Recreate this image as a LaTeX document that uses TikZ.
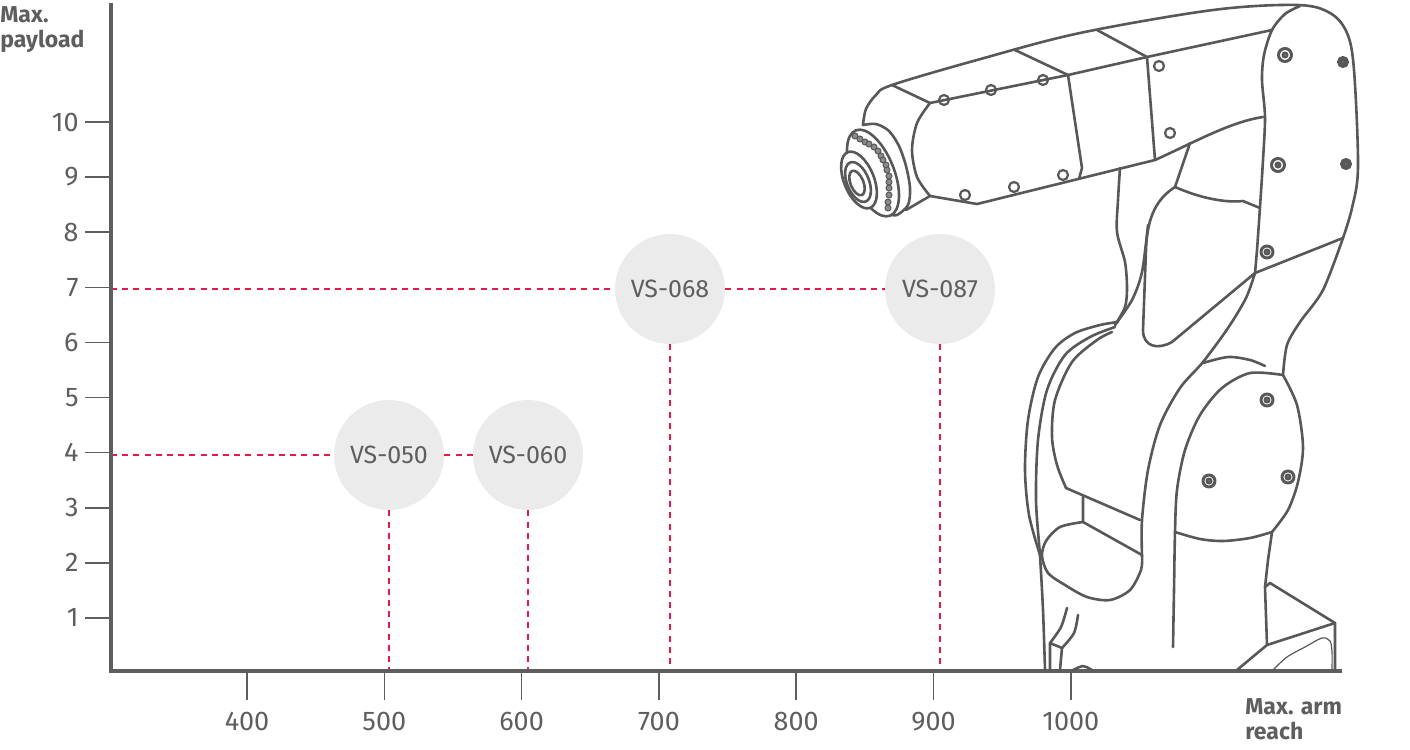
\documentclass[tikz,border=0pt]{standalone}
\usepackage{fontspec}
\setmainfont{Fira Sans}
\usetikzlibrary{positioning}
\definecolor{inkgray}{HTML}{5E5E5E}
\definecolor{guidered}{HTML}{E5194A}
\definecolor{bubblegray}{HTML}{EBEBEB}
\definecolor{robotgray}{HTML}{585858}

\begin{document}
\begin{tikzpicture}[x=0.5pt, y=-0.5pt,
    axis/.style={draw=inkgray, line width=2.4pt},
    tick/.style={draw=inkgray, line width=0.8pt},
    ticklabel/.style={text=inkgray, font=\fontsize{13.5}{13.5}\selectfont, inner sep=1pt},
    axistitle/.style={text=inkgray, font=\bfseries\fontsize{11.5}{12.5}\selectfont, align=left, inner sep=0pt},
    model/.style={circle, fill=bubblegray, minimum size=55pt, inner sep=0pt, text=inkgray, font=\fontsize{12.5}{12.5}\selectfont},
    guide/.style={draw=guidered, line width=0.9pt, dash pattern=on 3pt off 2.6pt},
    robot/.style={draw=robotgray, line width=1.3pt, line join=round, line cap=round},
  ]
  \useasboundingbox (0,0) rectangle (1410,750);

  % models
  \node[model] (vs050) at (389,455) {VS-050};
  \node[model] (vs060) at (528,455) {VS-060};
  \node[model] (vs068) at (670,289) {VS-068};
  \node[model] (vs087) at (940,289) {VS-087};

  \coordinate (origin) at (111,671);
  \coordinate (ytop) at (111,3);
  \coordinate (xend) at (1342,671);

  % guides
  \draw[guide] (origin |- vs050) -- (vs050);
  \draw[guide] (vs050) -- (vs060);
  \draw[guide] (origin |- vs068) -- (vs068);
  \draw[guide] (vs068) -- (vs087);
  \foreach \m in {vs050,vs060,vs068,vs087}
    \draw[guide] (\m.south) -- (\m.south |- origin);

  % axes
  \draw[axis] (ytop) -- (origin) -- (xend);
  \foreach \v in {1,...,10} {
    \draw[tick] (85,{673-55.1*\v}) coordinate (yt\v) -- (111,{673-55.1*\v});
    \node[ticklabel, left=2pt of yt\v] {\v};
  }
  \foreach \v in {400,500,...,1000} {
    \draw[tick] ({247+1.373*(\v-400)},673) -- ++(0,27) coordinate (xt\v);
    \node[ticklabel, below=5pt of xt\v] {\v};
  }
  \node[axistitle, anchor=north west] (ytitle) at (0,6) {Max.\\payload};
  \node[axistitle, anchor=north west] (xtitle) at (1245,698) {Max. arm\\reach};

  % robot: upper arm
  \draw[robot] plot[smooth, tension=0.55] coordinates {(863,125) (866,109) (876,95) (892,85) (977,60) (1080,33) (1213,10) (1297,5) (1330,13) (1347,33) (1354,70) (1358,167) (1352,208) (1343,238)};
  \draw[robot] plot[smooth] coordinates {(1343,238) (1323,290) (1300,322) (1287,345) (1283,375)};
  \draw[robot] (930,103) -- (1068,75) -- (1147,57) -- (1272,30);
  \draw[robot] (892,85) -- (930,103);
  \draw[robot] (1015,50) -- (1068,75);
  \draw[robot] (1097,30) -- (1147,57);
  \draw[robot] plot[smooth] coordinates {(930,103) (917,123) (912,150) (917,177) (930,196)};
  \draw[robot] (906,210) -- (930,196) -- (977,204) -- (1155,160) .. controls (1195,142) and (1230,122) .. (1263,117);
  \draw[robot] (1068,75) -- (1082,168) -- (1079,179);
  \draw[robot] (1147,57) -- (1155,160);
  \foreach \p in {(944,100),(991,90),(1043,80),(965,195),(1014,187),(1063,175),(1159,66),(1170,133)}
    \draw[robot, line width=1.1pt] \p circle (5);

  % flange
  \draw[robot] plot[smooth] coordinates {(863,125) (876,124) (889,131) (899,146) (906,166) (910,188) (908,205) (897,215) (889,214)};
  \draw[robot, fill=white, rotate around={22:(873,173)}] (873,173) ellipse (21 and 46);
  \foreach \p in {(855,136),(860,139),(865,142),(869,144),(874,147),(878,151),(881,156),(883,160),(886,165),(887,170),(889,176),(889,182),(889,188),(889,195),(888,202),(888,208)}
    \filldraw[draw=robotgray, fill=robotgray!70, line width=0.5pt] \p circle (3);
  \draw[robot, fill=white, rotate around={22:(859,180)}] (859,180) ellipse (15 and 30);
  \draw[robot, rotate around={22:(858,182)}] (858,182) ellipse (11 and 21);
  \draw[robot, rotate around={22:(857,183)}] (857,183) ellipse (6.5 and 13);

  % shoulder link
  \draw[robot] plot[smooth] coordinates {(1300,6) (1285,14) (1272,30) (1264,55) (1262,80) (1265,117) (1263,160) (1260,207) (1257,250) (1255,273)};
  \draw[robot] (1255,273) -- (1343,238);
  \draw[robot] (1255,273) -- (1172,342) .. controls (1158,350) and (1143,347) .. (1143,330) -- (1146,250) .. controls (1147,215) and (1158,198) .. (1175,187);
  \draw[robot] (1175,187) .. controls (1200,198) and (1225,203) .. (1243,201) -- (1260,208);
  \draw[robot] (1190,143) -- (1175,187);
  \draw[robot] plot[smooth] coordinates {(1120,168) (1118,200) (1117,232) (1125,262) (1127,288) (1125,307) (1115,325)};
  \draw[robot] plot[smooth] coordinates {(1148,225) (1142,272) (1132,300) (1115,325)};
  \foreach \p/\r in {(1285,55)/6.5,(1278,165)/6.5,(1267,252)/6,(1343,62)/4.5,(1346,164)/4.5,(1267,400)/6,(1209,481)/6,(1288,477)/6}
    \draw[robot, line width=1.5pt] \p circle (\r) \p circle (2);

  % lower arm
  \draw[robot] plot[smooth] coordinates {(1118,322) (1100,325) (1075,333) (1055,348) (1038,377) (1028,420) (1025,470) (1029,515) (1040,555)};
  \draw[robot] plot[smooth] coordinates {(1115,327) (1090,337) (1065,355) (1047,390) (1038,440) (1036,500) (1040,556) (1043,610) (1045,670)};
  \draw[robot] plot[smooth] coordinates {(1112,332) (1097,340) (1072,362) (1055,400) (1052,437) (1057,465) (1066,488)} -- (1140,520);
  \draw[robot] (1083,497) -- (1083,522) -- (1142,555);
  \draw[robot] plot[smooth] coordinates {(1083,522) (1060,527) (1046,541) (1042,556) (1048,573) (1065,585) (1087,597) (1110,600) (1130,590) (1141,570) (1142,556)};
  \draw[robot] plot[smooth] coordinates {(1067,608) (1061,627) (1050,643)};
  \draw[robot] plot[smooth] coordinates {(1078,615) (1074,633) (1062,648)};
  \draw[robot] (1050,670) -- (1050,643) -- (1062,648) -- (1060,670);
  \draw[robot] (1073,670) .. controls (1078,668) and (1080,666) .. (1083,666) .. controls (1086,666) and (1088,668) .. (1092,670);

  % base link and joint
  \draw[robot] plot[smooth] coordinates {(1255,273) (1246,298) (1228,328) (1203,362) (1180,388) (1160,425) (1148,470) (1142,520) (1142,556)};
  \draw[robot] plot[smooth] coordinates {(1203,363) (1228,357) (1250,360) (1265,366)};
  \draw[robot] plot[smooth] coordinates {(1283,375) (1297,405) (1303,447) (1298,482) (1288,510) (1272,532)};
  \draw[robot] plot[smooth] coordinates {(1175,532) (1200,539) (1223,541) (1250,538) (1272,532)};
  \draw[robot] plot[smooth] coordinates {(1283,375) (1250,373) (1222,388) (1200,415) (1185,450) (1177,490) (1175,532) (1174,590) (1173,647)};
  \draw[robot] (1272,532) -- (1268,560) -- (1265,587) -- (1267,645);
  \draw[robot] (1265,587) -- (1270,583) -- (1335,623) -- (1335,670);
  \draw[robot] (1237,670) -- (1267,645) -- (1335,623);
  \draw[robotgray, line width=0.6pt] plot[smooth] coordinates {(1273,670) (1287,657) (1305,647) (1322,638) (1330,641) (1332,652) (1332,670)};
\end{tikzpicture}
\end{document}
